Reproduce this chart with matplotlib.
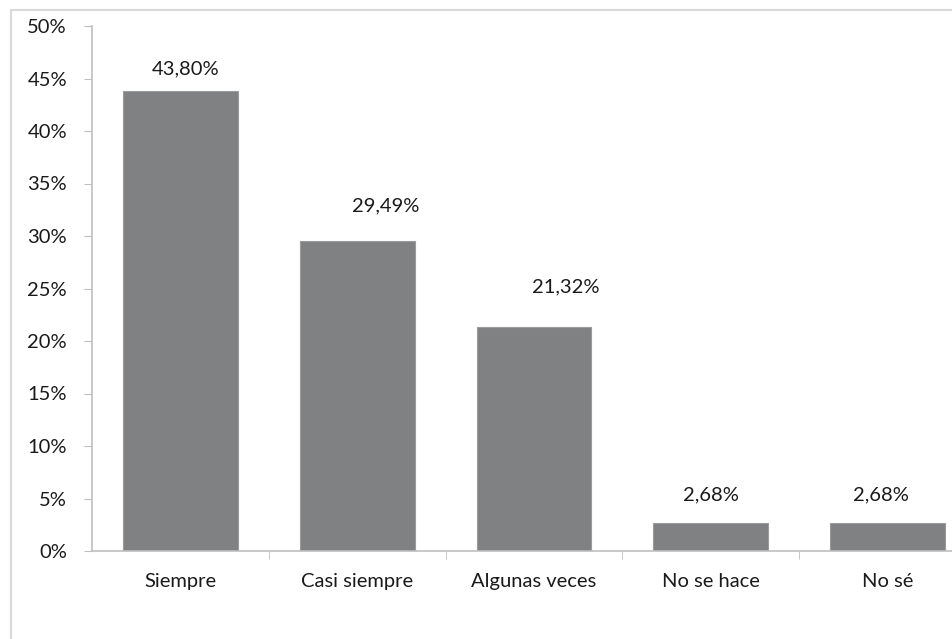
import matplotlib.pyplot as plt
from matplotlib.patches import Rectangle
from matplotlib.ticker import FixedLocator, NullFormatter

categories = ["Siempre", "Casi siempre", "Algunas veces", "No se hace", "No sé"]
values = [43.80, 29.49, 21.32, 2.68, 2.68]
labels = ["43,80%", "29,49%", "21,32%", "2,68%", "2,68%"]
yticks = [0, 5, 10, 15, 20, 25, 30, 35, 40, 45, 50]
# manual label offsets (x in category units, y in percent points)
label_dx = [0.03, 0.16, 0.18, 0.0, -0.04]
label_dy = [2.1, 3.4, 3.8, 2.7, 2.7]

plt.rcParams["font.family"] = ["Lato", "DejaVu Sans"]
txt = "#1a1a1a"
fs = 14.5

W, H = 952, 639
fig = plt.figure(figsize=(W / 100, H / 100), dpi=100)

# outer chart border (cut off at right and bottom like the source)
fig.patches.append(Rectangle((11 / W, -0.1), 1.2, 1 - 10 / H + 0.1,
                             transform=fig.transFigure, fill=False,
                             edgecolor="#d9d9d9", linewidth=1.5))

# axes spans 92..976 px horizontally, 26..551 px vertically
ax = fig.add_axes([92 / W, (H - 551) / H, 884 / W, 525 / H])
x = range(len(categories))
ax.bar(x, values, width=0.65, color="#7f8182", edgecolor="#9a9c9c", linewidth=0.8)
for i, v in enumerate(values):
    ax.text(i + label_dx[i], v + label_dy[i], labels[i], ha="center", va="center",
            fontsize=fs, color=txt)

ax.set_xlim(-0.5, len(categories) - 0.5)
ax.set_ylim(0, 50)
ax.set_yticks(yticks)
ax.set_yticklabels([f"{t}%" for t in yticks], fontsize=fs, color=txt)
ax.set_xticks(list(x))
ax.set_xticklabels(categories, fontsize=fs, color=txt)
ax.tick_params(axis="x", length=0, pad=16)
ax.tick_params(axis="y", length=6, color="#bfbfbf", pad=12)
ax.xaxis.set_minor_locator(FixedLocator([0.5, 1.5, 2.5, 3.5]))
ax.xaxis.set_minor_formatter(NullFormatter())
ax.tick_params(axis="x", which="minor", length=6, color="#bfbfbf")

for s in ["top", "right"]:
    ax.spines[s].set_visible(False)
for s in ["left", "bottom"]:
    ax.spines[s].set_color("#bfbfbf")
    ax.spines[s].set_linewidth(1.2)

fig.savefig("out.png", dpi=100)
